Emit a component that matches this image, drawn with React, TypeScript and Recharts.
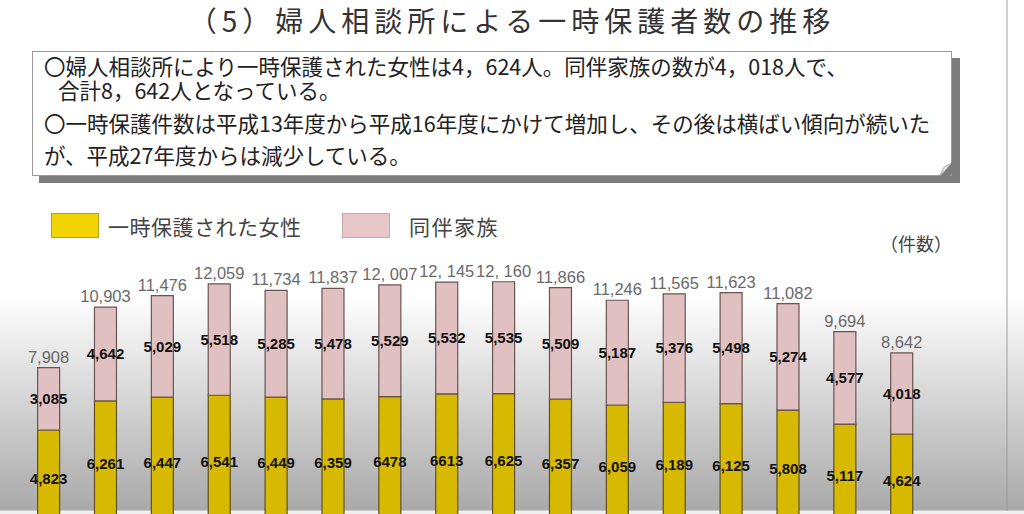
import React from "react";
import { BarChart, Bar, XAxis, YAxis, LabelList } from "recharts";

const years = ["平成13年度","平成14年度","平成15年度","平成16年度","平成17年度","平成18年度","平成19年度","平成20年度","平成21年度","平成22年度","平成23年度","平成24年度","平成25年度","平成26年度","平成27年度","平成28年度"];
const women = [4823, 6261, 6447, 6541, 6449, 6359, 6478, 6613, 6625, 6357, 6059, 6189, 6125, 5808, 5117, 4624];
const family = [3085, 4642, 5029, 5518, 5285, 5478, 5529, 5532, 5535, 5509, 5187, 5376, 5498, 5274, 4577, 4018];
const womenLabels = ["4,823","6,261","6,447","6,541","6,449","6,359","6478","6613","6,625","6,357","6,059","6,189","6,125","5,808","5,117","4,624"];
const familyLabels = ["3,085","4,642","5,029","5,518","5,285","5,478","5,529","5,532","5,535","5,509","5,187","5,376","5,498","5,274","4,577","4,018"];
const totalLabels = ["7,908","10,903","11,476","12,059","11,734","11,837","12, 007","12, 145","12, 160","11,866","11,246","11,565","11,623","11,082","9,694","8,642"];

const seriesNames = ["一時保護された女性", "同伴家族"];
const title = "（5）婦人相談所による一時保護者数の推移";
const boxLines = [
  "〇婦人相談所により一時保護された女性は4，624人。同伴家族の数が4，018人で、",
  "合計8，642人となっている。",
  "〇一時保護件数は平成13年度から平成16年度にかけて増加し、その後は横ばい傾向が続いた",
  "が、平成27年度からは減少している。",
];
const unitLabel = "（件数）";

const data = years.map((y, i) => ({
  year: y,
  women: women[i],
  family: family[i],
  womenLabel: womenLabels[i],
  familyLabel: familyLabels[i],
  totalLabel: totalLabels[i].replace(/ /g, "\u00a0"),
}));

const JP = '"Noto Sans CJK JP", "Noto Sans", sans-serif';
const NUM = '"Liberation Sans", Arial, sans-serif';

const YELLOW = "#d6b900";
const PINK = "#e0c0c0";

const boxTextStyle: React.CSSProperties = {
  position: "absolute",
  left: 44,
  fontFamily: JP,
  fontSize: 21.5,
  color: "#222",
  whiteSpace: "nowrap",
};

export default function App() {
  return (
    <div
      style={{
        position: "fixed",
        left: 0,
        top: 0,
        width: 1024,
        height: 514,
        overflow: "hidden",
        background:
          "linear-gradient(to bottom, #ffffff 0px, #ffffff 295px, #a9a9a9 510px, #eeeeee 511px, #eeeeee 514px)",
      }}
    >
      {/* right border line */}
      <div style={{ position: "absolute", left: 1006, top: 0, width: 2, height: 511, background: "rgba(150,150,150,0.45)" }} />

      {/* title */}
      <div
        style={{
          position: "absolute",
          left: 0,
          top: 5,
          width: 1024,
          textAlign: "center",
          fontFamily: JP,
          fontSize: 28,
          letterSpacing: 5,
          lineHeight: "30px",
          color: "#333",
        }}
      >
        {title}
      </div>

      {/* text box shadow */}
      <div style={{ position: "absolute", left: 39, top: 58, width: 921, height: 125, background: "#7d7d7d" }} />
      <div
        style={{
          position: "absolute",
          left: 32,
          top: 51,
          width: 920,
          height: 125,
          background: "#fff",
          border: "1px solid #9a9a9a",
          boxSizing: "border-box",
        }}
      />
      <svg style={{ position: "absolute", left: 930, top: 155 }} width={30} height={30}>
        <polygon points="8,22 22,7 28,7 28,12 14,27" fill="#7d7d7d" />
        <polygon points="10,21 14,12 21,9" fill="#e8e8e8" stroke="#999" strokeWidth={0.8} />
      </svg>
      <div style={{ ...boxTextStyle, top: 54, lineHeight: "24px" }}>
        {boxLines[0]}
        <br />
        <span style={{ display: "inline-block", width: 14 }} />
        {boxLines[1]}
      </div>
      <div style={{ ...boxTextStyle, top: 107, lineHeight: "32px" }}>
        {boxLines[2]}
        <br />
        {boxLines[3]}
      </div>

      {/* legend */}
      <div style={{ position: "absolute", left: 51, top: 213, width: 48, height: 25, background: "#f2d400", border: "1px solid #b89e20", boxSizing: "border-box" }} />
      <div style={{ position: "absolute", left: 108, top: 212, fontFamily: JP, fontSize: 21, letterSpacing: 0.5, lineHeight: "28px", color: "#444", whiteSpace: "nowrap" }}>
        {seriesNames[0]}
      </div>
      <div style={{ position: "absolute", left: 342, top: 213, width: 48, height: 25, background: "#e6c6c6", border: "1px solid #c9aaaa", boxSizing: "border-box" }} />
      <div style={{ position: "absolute", left: 409, top: 212, fontFamily: JP, fontSize: 21, letterSpacing: 1.5, lineHeight: "28px", color: "#444", whiteSpace: "nowrap" }}>
        {seriesNames[1]}
      </div>
      <div style={{ position: "absolute", left: 880, top: 230, fontFamily: JP, fontSize: 18, lineHeight: "26px", color: "#444", whiteSpace: "nowrap" }}>
        {unitLabel}
      </div>

      {/* chart */}
      <div style={{ position: "absolute", left: 0, top: 0 }}>
        <BarChart
          width={1024}
          height={560}
          data={data}
          margin={{ top: 244.6, right: 93.4, bottom: 32.6, left: 20.6 }}
        >
          <XAxis dataKey="year" hide />
          <YAxis hide domain={[0, 14000]} />
          <Bar dataKey="women" stackId="a" fill={YELLOW} stroke="#5e5020" strokeWidth={1.2} barSize={22} isAnimationActive={false}>
            <LabelList dataKey="womenLabel" position="center" fill="#111" fontFamily={NUM} fontSize={15} fontWeight="bold" />
          </Bar>
          <Bar dataKey="family" stackId="a" fill={PINK} stroke="#6a5454" strokeWidth={1.2} barSize={22} isAnimationActive={false}>
            <LabelList dataKey="familyLabel" position="center" fill="#111" fontFamily={NUM} fontSize={15} fontWeight="bold" />
            <LabelList dataKey="totalLabel" position="top" offset={5} fill="#6a6a6a" fontFamily={NUM} fontSize={16.5} />
          </Bar>
        </BarChart>
      </div>
    </div>
  );
}
